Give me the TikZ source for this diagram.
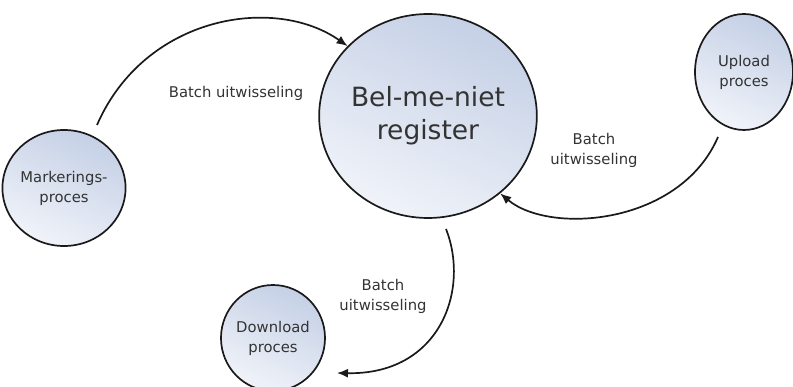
\documentclass[tikz,border=0pt]{standalone}
\usepackage{fontspec}
\setmainfont{DejaVu Sans}
\usetikzlibrary{shapes.geometric,arrows.meta}
\definecolor{txt}{HTML}{333333}
\definecolor{fillA}{HTML}{C5D0E6}
\definecolor{fillB}{HTML}{F0F3F9}
\definecolor{edge}{HTML}{1A1A1A}
\tikzset{
  proc/.style={ellipse, draw=edge, line width=1.7pt, inner sep=0pt,
    top color=fillA, bottom color=fillB, shading angle=-25,
    text=txt, align=center, font=\fontsize{14.8}{20}\selectfont},
  lbl/.style={text=txt, align=center, font=\fontsize{14.8}{20}\selectfont, inner sep=0pt},
  flow/.style={draw=edge, line width=1.7pt, -{Latex[length=11pt,width=9pt]}}
}
\begin{document}
\begin{tikzpicture}[x=1pt,y=-1pt]
\useasboundingbox (0,0) rectangle (793,387);
\node[proc, minimum width=190pt, minimum height=204pt, font=\fontsize{26.5}{33}\selectfont] (reg) at (428,116) {Bel-me-niet\\register};
\node[proc, minimum width=108pt, minimum height=116pt] (mark) at (64,188) {Markerings-\\proces};
\node[proc, minimum width=98pt, minimum height=116pt] (up) at (744,72) {Upload\\proces};
\node[proc, minimum width=100pt, minimum height=106pt] (down) at (273,338) {Download\\proces};

\node[lbl] (l1) at (236,93) {Batch uitwisseling};
\node[lbl] (l2) at (594,150) {Batch\\uitwisseling};
\node[lbl] (l3) at (383,296) {Batch\\uitwisseling};

\coordinate (s1) at (97,125);
\coordinate (s2) at (718,137);
\coordinate (s3) at (446,229);
\coordinate (e3) at (337,373);

\draw[flow] (s1) .. controls (145,15) and (275,-5) .. (reg.139);
\draw[flow] (s2) .. controls (680,225) and (550,235) .. (reg.-47);
\draw[flow] (s3) .. controls (470,290) and (440,375) .. (e3);
\end{tikzpicture}
\end{document}
